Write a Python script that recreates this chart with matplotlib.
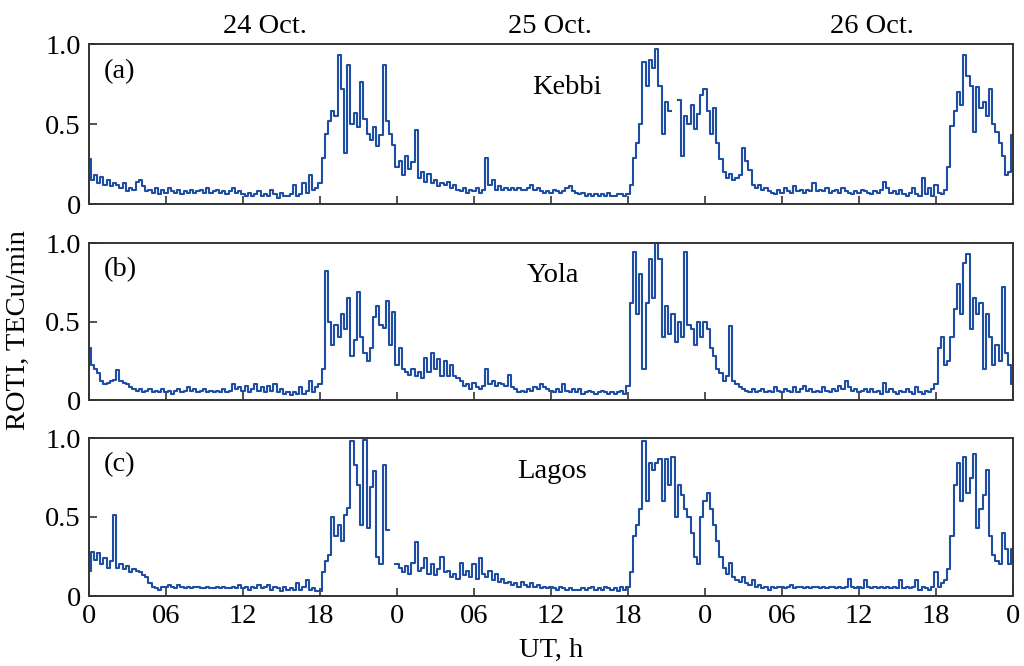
import numpy as np
import matplotlib
matplotlib.use("Agg")
import matplotlib.pyplot as plt

nan = np.nan
# ROTI values every 15 min, 24 Oct 00 UT -> 27 Oct 00 UT (289 samples)
kebbi = [
    0.28, 0.15, 0.18, 0.13,  0.17, 0.12, 0.15, 0.11,  0.13, 0.12, 0.10, 0.13,
    0.08, 0.10, 0.09, 0.14,  0.15, 0.11, 0.08, 0.09,  0.07, 0.10, 0.06, 0.09,
    0.07, 0.10, 0.08, 0.07,  0.09, 0.06, 0.08, 0.07,  0.09, 0.07, 0.08, 0.09,
    0.07, 0.10, 0.07, 0.08,  0.09, 0.07, 0.08, 0.06,  0.08, 0.10, 0.07, 0.08,
    0.06, 0.05, 0.07, 0.05,  0.06, 0.08, 0.05, 0.06,  0.05, 0.09, 0.06, 0.04,
    0.07, 0.05, 0.05, 0.06,  0.12, 0.05, 0.06, 0.13,  0.07, 0.18, 0.09, 0.10,
    0.13, 0.29, 0.44, 0.52,  0.58, 0.55, 0.93, 0.72,  0.32, 0.87, 0.50, 0.57,
    0.48, 0.76, 0.53, 0.44,  0.40, 0.48, 0.36, 0.43,  0.87, 0.52, 0.44, 0.37,
    0.23, 0.27, 0.18, 0.30,  0.22, 0.26, 0.46, 0.16,  0.20, 0.14, 0.19, 0.13,
    0.15, 0.11, 0.13, 0.12,  0.14, 0.10, 0.12, 0.09,  0.08, 0.10, 0.07, 0.09,
    0.08, 0.10, 0.07, 0.09,  0.29, 0.12, 0.15, 0.09,  0.11, 0.09, 0.10, 0.09,
    0.10, 0.09, 0.10, 0.09,  0.09, 0.10, 0.12, 0.09,  0.10, 0.08, 0.07, 0.08,
    0.07, 0.09, 0.08, 0.07,  0.08, 0.10, 0.11, 0.08,  0.07, 0.06, 0.07, 0.05,
    0.06, 0.05, 0.06, 0.05,  0.06, 0.05, 0.07, 0.05,  0.05, 0.06, 0.06, 0.05,
    0.06, 0.12, 0.29, 0.38,  0.50, 0.89, 0.74, 0.90,  0.85, 0.97, 0.74, 0.44,
    0.64, 0.58, nan, nan,    0.65, 0.30, 0.55, 0.50,  0.62, 0.47, 0.56, 0.68,
    0.72, 0.58, 0.44, 0.60,  0.38, 0.28, 0.20, 0.16,  0.19, 0.15, 0.16, 0.18,
    0.35, 0.27, 0.21, 0.12,  0.10, 0.12, 0.09, 0.10,  0.08, 0.07, 0.06, 0.09,
    0.07, 0.10, 0.08, 0.07,  0.11, 0.08, 0.09, 0.07,  0.09, 0.08, 0.13, 0.08,
    0.09, 0.08, 0.10, 0.07,  0.08, 0.09, 0.07, 0.10,  0.08, 0.07, 0.06, 0.08,
    0.07, 0.09, 0.08, 0.07,  0.06, 0.08, 0.07, 0.09,  0.14, 0.10, 0.07, 0.08,
    0.06, 0.09, 0.06, 0.05,  0.07, 0.10, 0.06, 0.05,  0.16, 0.06, 0.10, 0.05,
    0.12, 0.07, 0.06, 0.09,  0.23, 0.49, 0.58, 0.70,  0.62, 0.93, 0.80, 0.74,
    0.45, 0.73, 0.60, 0.64,  0.55, 0.72, 0.50, 0.45,  0.38, 0.30, 0.18, 0.20,
    0.43,
]
yola = [
    0.33, 0.22, 0.20, 0.17,  0.12, 0.10, 0.11, 0.12,  0.13, 0.19, 0.12, 0.11,
    0.10, 0.08, 0.07, 0.06,  0.07, 0.05, 0.06, 0.07,  0.05, 0.06, 0.05, 0.07,
    0.05, 0.06, 0.04, 0.06,  0.07, 0.05, 0.06, 0.08,  0.06, 0.07, 0.05, 0.06,
    0.07, 0.05, 0.06, 0.05,  0.06, 0.05, 0.07, 0.05,  0.06, 0.10, 0.07, 0.08,
    0.06, 0.09, 0.05, 0.07,  0.10, 0.06, 0.08, 0.05,  0.09, 0.06, 0.10, 0.05,
    0.07, 0.04, 0.05, 0.03,  0.05, 0.04, 0.08, 0.04,  0.06, 0.12, 0.05, 0.08,
    0.10, 0.20, 0.82, 0.50,  0.35, 0.48, 0.40, 0.55,  0.45, 0.65, 0.28, 0.38,
    0.69, 0.40, 0.30, 0.25,  0.33, 0.53, 0.60, 0.48,  0.46, 0.63, 0.35, 0.56,
    0.22, 0.33, 0.20, 0.18,  0.16, 0.20, 0.15, 0.18,  0.14, 0.27, 0.18, 0.30,
    0.20, 0.26, 0.15, 0.25,  0.15, 0.22, 0.15, 0.14,  0.12, 0.09, 0.10, 0.07,
    0.11, 0.08, 0.07, 0.09,  0.20, 0.10, 0.12, 0.09,  0.11, 0.10, 0.09, 0.16,
    0.08, 0.07, 0.05, 0.06,  0.05, 0.07, 0.06, 0.08,  0.07, 0.10, 0.08, 0.07,
    0.06, 0.05, 0.07, 0.05,  0.10, 0.06, 0.05, 0.07,  0.05, 0.07, 0.04, 0.05,
    0.06, 0.05, 0.04, 0.05,  0.06, 0.05, 0.04, 0.05,  0.04, 0.05, 0.06, 0.04,
    0.09, 0.62, 0.94, 0.55,  0.80, 0.20, 0.62, 0.90,  0.65, 1.00, 0.90, 0.40,
    0.60, 0.42, 0.55, 0.37,  0.50, 0.40, 0.94, 0.48,  0.45, 0.35, 0.50, 0.40,
    0.50, 0.45, 0.33, 0.28,  0.20, 0.17, 0.12, 0.15,  0.47, 0.12, 0.10, 0.08,
    0.07, 0.06, 0.05, 0.07,  0.05, 0.06, 0.07, 0.05,  0.06, 0.05, 0.08, 0.06,
    0.05, 0.07, 0.06, 0.05,  0.08, 0.05, 0.07, 0.09,  0.06, 0.07, 0.05, 0.06,
    0.05, 0.08, 0.06, 0.05,  0.07, 0.06, 0.09, 0.07,  0.12, 0.08, 0.06, 0.07,
    0.05, 0.06, 0.07, 0.05,  0.07, 0.05, 0.06, 0.04,  0.11, 0.05, 0.07, 0.05,
    0.04, 0.06, 0.05, 0.07,  0.05, 0.04, 0.08, 0.05,  0.04, 0.06, 0.05, 0.07,
    0.10, 0.33, 0.40, 0.22,  0.25, 0.40, 0.58, 0.74,  0.55, 0.87, 0.93, 0.45,
    0.65, 0.55, 0.62, 0.20,  0.55, 0.40, 0.22, 0.35,  0.25, 0.72, 0.30, 0.22,
    0.10,
]
lagos = [
    0.16, 0.28, 0.23, 0.27,  0.20, 0.24, 0.18, 0.22,  0.51, 0.18, 0.20, 0.17,
    0.19, 0.15, 0.17, 0.16,  0.15, 0.13, 0.12, 0.08,  0.06, 0.05, 0.04, 0.06,
    0.06, 0.07, 0.06, 0.05,  0.07, 0.06, 0.05, 0.06,  0.05, 0.06, 0.06, 0.05,
    0.05, 0.06, 0.05, 0.05,  0.06, 0.05, 0.06, 0.05,  0.05, 0.06, 0.05, 0.07,
    0.05, 0.06, 0.04, 0.06,  0.05, 0.07, 0.05, 0.06,  0.07, 0.04, 0.06, 0.05,
    0.03, 0.06, 0.04, 0.05,  0.04, 0.08, 0.04, 0.06,  0.10, 0.04, 0.05, 0.03,
    0.03, 0.15, 0.22, 0.26,  0.50, 0.38, 0.45, 0.35,  0.51, 0.56, 0.98, 0.83,
    0.70, 0.45, 0.99, 0.43,  0.69, 0.79, 0.25, 0.20,  0.83, 0.42, nan, nan,
    0.20, 0.18, 0.15, 0.19,  0.14, 0.21, 0.34, 0.16,  0.18, 0.24, 0.14, 0.20,
    0.13, 0.17, 0.25, 0.15,  0.16, 0.12, 0.14, 0.11,  0.21, 0.13, 0.16, 0.12,
    0.20, 0.11, 0.24, 0.14,  0.12, 0.16, 0.10, 0.14,  0.09, 0.11, 0.08, 0.09,
    0.07, 0.08, 0.06, 0.09,  0.07, 0.06, 0.08, 0.06,  0.07, 0.05, 0.06, 0.05,
    0.06, 0.05, 0.04, 0.06,  0.05, 0.04, 0.05, 0.04,  0.04, 0.04, 0.05, 0.04,
    0.05, 0.06, 0.04, 0.05,  0.04, 0.06, 0.05, 0.04,  0.05, 0.03, 0.06, 0.04,
    0.06, 0.15, 0.38, 0.45,  0.55, 0.98, 0.60, 0.84,  0.80, 0.84, 0.87, 0.60,
    0.87, 0.70, 0.88, 0.50,  0.70, 0.64, 0.55, 0.50,  0.40, 0.25, 0.20, 0.50,
    0.60, 0.65, 0.55, 0.45,  0.35, 0.25, 0.18, 0.14,  0.21, 0.12, 0.10, 0.09,
    0.12, 0.08, 0.07, 0.10,  0.06, 0.07, 0.05, 0.06,  0.04, 0.06, 0.05, 0.06,
    0.06, 0.05, 0.06, 0.07,  0.05, 0.06, 0.06, 0.05,  0.06, 0.05, 0.06, 0.06,
    0.05, 0.06, 0.05, 0.06,  0.06, 0.05, 0.06, 0.05,  0.06, 0.11, 0.06, 0.05,
    0.06, 0.05, 0.10, 0.06,  0.05, 0.06, 0.05, 0.06,  0.05, 0.06, 0.05, 0.06,
    0.05, 0.10, 0.05, 0.06,  0.05, 0.06, 0.10, 0.04,  0.06, 0.05, 0.04, 0.06,
    0.15, 0.06, 0.08, 0.10,  0.17, 0.38, 0.70, 0.84,  0.60, 0.88, 0.65, 0.75,
    0.90, 0.43, 0.55, 0.64,  0.80, 0.38, 0.26, 0.22,  0.20, 0.40, 0.30, 0.20,
    0.30,
]

stations = ["Kebbi", "Yola", "Lagos"]
panel_tags = ["(a)", "(b)", "(c)"]
series = [kebbi, yola, lagos]
xtick_pos = [0, 6, 12, 18, 24, 30, 36, 42, 48, 54, 60, 66, 72]
xtick_lab = ["0", "06", "12", "18", "0", "06", "12", "18", "0", "06", "12", "18", "0"]
day_labels = ["24 Oct.", "25 Oct.", "26 Oct."]
day_pos = [13.7, 35.9, 61.0]

plt.rcParams['font.family'] = ['Liberation Serif', 'DejaVu Serif']
FS = 20.5

fig = plt.figure(figsize=(10.24, 6.66), dpi=100)
W, H = 1024, 666
left, right = 89, 1013
panels_px = [(44, 204), (243, 400), (438, 596)]
name_pos = [(0.517, 0.725), (0.502, 0.79), (0.501, 0.785)]
line_color = '#1d4ea3'
spine_color = '#333333'

for i, (top, bot) in enumerate(panels_px):
    ax = fig.add_axes([left / W, 1 - bot / H, (right - left) / W, (bot - top) / H])
    y = np.array(series[i], dtype=float)
    x = np.arange(len(y)) * 0.25
    ax.plot(x, y, color=line_color, lw=1.5, drawstyle='steps-mid')
    ax.set_xlim(0, 72)
    ax.set_ylim(0, 1.0)
    ax.set_yticks([0, 0.5, 1.0])
    ax.set_yticklabels(["0", "0.5", "1.0"], fontsize=FS)
    ax.set_xticks(xtick_pos)
    if i == 2:
        ax.set_xticklabels(xtick_lab, fontsize=FS)
        ax.set_xlabel("UT, h", fontsize=FS, labelpad=6)
    else:
        ax.set_xticklabels([])
    ax.tick_params(direction='in', length=6, width=1.2, color=spine_color, pad=6)
    for s in ax.spines.values():
        s.set_color(spine_color)
        s.set_linewidth(1.4)
    ax.text(0.016, 0.83, panel_tags[i], transform=ax.transAxes, fontsize=FS,
            ha='left', va='center')
    ax.text(name_pos[i][0], name_pos[i][1], stations[i], transform=ax.transAxes,
            fontsize=FS, ha='center', va='center')
    if i == 0:
        for lab, p in zip(day_labels, day_pos):
            ax.text(p, 1.03, lab, transform=ax.get_xaxis_transform(), fontsize=FS,
                    ha='center', va='bottom')

fig.text(18 / W, 1 - 330 / H, "ROTI, TECu/min", rotation=90, fontsize=FS,
         ha='center', va='center')

fig.savefig("out.png", dpi=100)
